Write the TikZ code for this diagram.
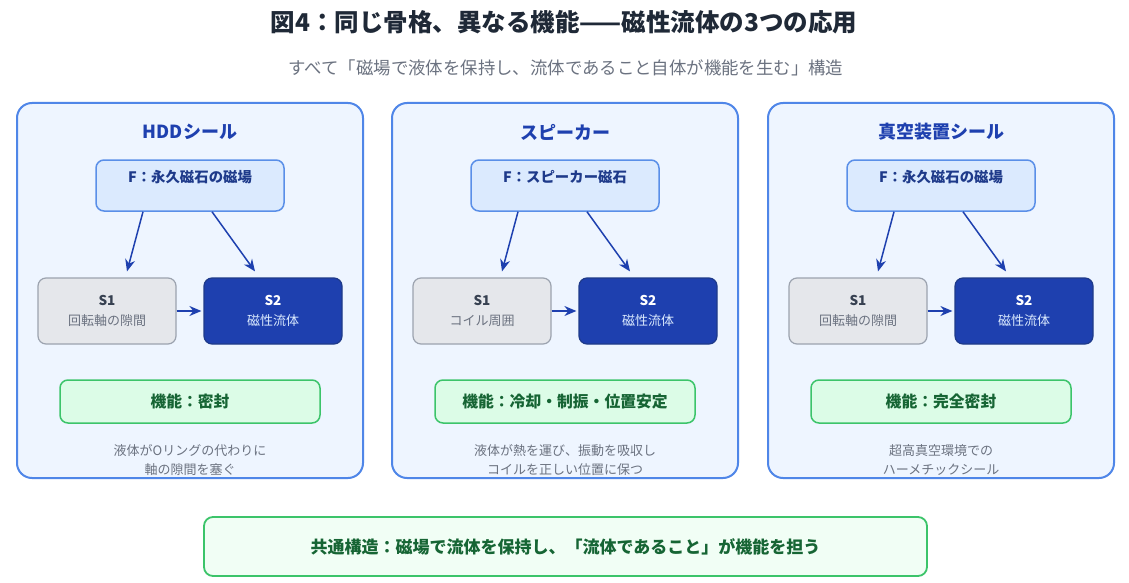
\documentclass[tikz,border=0pt]{standalone}
\usepackage{fontspec}
\setmainfont{Noto Sans CJK JP}
\usepackage{tikz}
\usetikzlibrary{shapes,arrows,arrows.meta,positioning,calc}

\definecolor{panelline}{HTML}{4F86E8}
\definecolor{panelfill}{HTML}{EEF5FF}
\definecolor{ffill}{HTML}{DBEAFE}
\definecolor{fline}{HTML}{5A8FE8}
\definecolor{navy}{HTML}{1E3A8A}
\definecolor{deepblue}{HTML}{1E40AF}
\definecolor{greyfill}{HTML}{E5E7EB}
\definecolor{greyline}{HTML}{9CA3AF}
\definecolor{darkgrey}{HTML}{374151}
\definecolor{midgrey}{HTML}{6B7280}
\definecolor{greenfill}{HTML}{DCFCE7}
\definecolor{greenline}{HTML}{3CC46A}
\definecolor{darkgreen}{HTML}{166534}
\definecolor{paleblue}{HTML}{DBEAFE}
\definecolor{titlegrey}{HTML}{1F2937}

\tikzset{
  panel/.style={draw=panelline, line width=2pt, fill=panelfill, rounded corners=15pt,
    minimum width=346pt, minimum height=375pt},
  fbox/.style={draw=fline, line width=1.5pt, fill=ffill, rounded corners=8pt,
    minimum width=188pt, minimum height=51pt},
  s1box/.style={draw=greyline, line width=1.2pt, fill=greyfill, rounded corners=8pt,
    minimum width=138pt, minimum height=66pt, align=center, text=darkgrey},
  s2box/.style={draw=navy, line width=1.2pt, fill=deepblue, rounded corners=8pt,
    minimum width=138pt, minimum height=66pt, align=center, text=white},
  funcbox/.style={draw=greenline, line width=1.5pt, fill=greenfill, rounded corners=8pt,
    minimum width=260pt, minimum height=43pt, text=darkgreen,
    font=\fontsize{15.8}{19}\selectfont\bfseries},
  ptitle/.style={text=deepblue, font=\fontsize{18}{22}\selectfont\bfseries},
  ftext/.style={text=navy, font=\fontsize{14.4}{17}\selectfont\bfseries},
  desc/.style={text=midgrey, align=center, font=\fontsize{13}{19.5}\selectfont},
  flow/.style={draw=deepblue, line width=1.5pt, -{Stealth[length=12pt,width=10pt]}}
}

\newcommand{\stext}[2]{{\fontsize{13.5}{16}\selectfont\bfseries #1}\\[8pt]{\fontsize{13}{15}\selectfont #2}}

\begin{document}
\begin{tikzpicture}[x=1pt,y=-1pt]
    \useasboundingbox[fill=white] (0,0) rectangle (1129,583);

    % Title
    \node[text=titlegrey, font=\fontsize{24.5}{28}\selectfont\bfseries] (title) at (564,22)
        {図4：同じ骨格、異なる機能——磁性流体の3つの応用};
    \node[text=midgrey, font=\fontsize{17.4}{20}\selectfont] (subtitle) at (566,68)
        {すべて「磁場で液体を保持し、流体であること自体が機能を生む」構造};

    % Panel 1: HDD
    \node[panel] (hdd) at (190,290.5) {};
    \node[ptitle] (hdd-title) at (190,132) {HDDシール};
    \node[fbox] (hdd-f) at (190,185.5) {};
    \node[ftext] (hdd-ft) at (190,177) {F：永久磁石の磁場};
    \node[s1box, text=darkgrey] (hdd-s1) at (107,311) {\stext{S1}{\textcolor{midgrey}{回転軸の隙間}}};
    \node[s2box] (hdd-s2) at (273,311) {\stext{S2}{\textcolor{paleblue}{磁性流体}}};
    \draw[flow] ($(hdd-f.south)+(-47,0)$) -- ($(hdd-s1.north)+(20,-6)$);
    \draw[flow] ($(hdd-f.south)+(22,0)$) -- ($(hdd-s2.north)+(-18,-6)$);
    \draw[flow] (hdd-s1.east) -- ([xshift=-2pt]hdd-s2.west);
    \node[funcbox] (hdd-func) at (190,401.5) {機能：密封};
    \node[desc] (hdd-desc) at (190,460) {液体がOリングの代わりに\\軸の隙間を塞ぐ};

    % Panel 2: speaker
    \node[panel] (spk) at (565,290.5) {};
    \node[ptitle] (spk-title) at (565,132) {スピーカー};
    \node[fbox] (spk-f) at (565,185.5) {};
    \node[ftext] (spk-ft) at (565,177) {F：スピーカー磁石};
    \node[s1box] (spk-s1) at (482,311) {\stext{S1}{\textcolor{midgrey}{コイル周囲}}};
    \node[s2box] (spk-s2) at (648,311) {\stext{S2}{\textcolor{paleblue}{磁性流体}}};
    \draw[flow] ($(spk-f.south)+(-47,0)$) -- ($(spk-s1.north)+(20,-6)$);
    \draw[flow] ($(spk-f.south)+(22,0)$) -- ($(spk-s2.north)+(-18,-6)$);
    \draw[flow] (spk-s1.east) -- ([xshift=-2pt]spk-s2.west);
    \node[funcbox] (spk-func) at (565,401.5) {機能：冷却・制振・位置安定};
    \node[desc] (spk-desc) at (565,460) {液体が熱を運び、振動を吸収し\\コイルを正しい位置に保つ};

    % Panel 3: vacuum
    \node[panel] (vac) at (941,290.5) {};
    \node[ptitle] (vac-title) at (941,132) {真空装置シール};
    \node[fbox] (vac-f) at (941,185.5) {};
    \node[ftext] (vac-ft) at (941,177) {F：永久磁石の磁場};
    \node[s1box] (vac-s1) at (858,311) {\stext{S1}{\textcolor{midgrey}{回転軸の隙間}}};
    \node[s2box] (vac-s2) at (1024,311) {\stext{S2}{\textcolor{paleblue}{磁性流体}}};
    \draw[flow] ($(vac-f.south)+(-47,0)$) -- ($(vac-s1.north)+(20,-6)$);
    \draw[flow] ($(vac-f.south)+(22,0)$) -- ($(vac-s2.north)+(-18,-6)$);
    \draw[flow] (vac-s1.east) -- ([xshift=-2pt]vac-s2.west);
    \node[funcbox] (vac-func) at (941,401.5) {機能：完全密封};
    \node[desc] (vac-desc) at (941,460) {超高真空環境での\\ハーメチックシール};

    % Common structure
    \node[draw=greenline, line width=1.8pt, fill=greenfill!40, rounded corners=9pt,
        minimum width=723pt, minimum height=59pt, text=darkgreen,
        font=\fontsize{17}{20}\selectfont\bfseries] (common) at (565.5,546.5)
        {共通構造：磁場で流体を保持し、「流体であること」が機能を担う};
\end{tikzpicture}
\end{document}
